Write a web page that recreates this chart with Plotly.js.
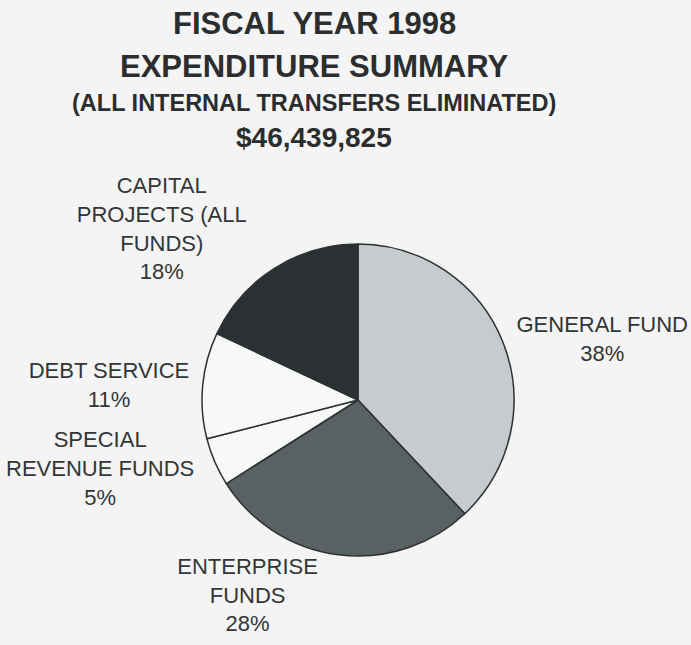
<!DOCTYPE html>
<html>
<head>
<meta charset="utf-8">
<script src="https://cdn.plot.ly/plotly-3.0.1.min.js"></script>
<style>
  html, body { margin: 0; padding: 0; background: #f3f4f3; }
  #chart { width: 691px; height: 645px; }
</style>
</head>
<body>
<div id="chart"></div>
<script>
// Data (clockwise from 12 o'clock)
var categories = ["GENERAL FUND", "ENTERPRISE<br>FUNDS", "SPECIAL<br>REVENUE FUNDS", "DEBT SERVICE", "CAPITAL<br>PROJECTS (ALL<br>FUNDS)"];
var sharePercent = [38, 28, 5, 11, 18];
var sliceColors = ["#c6cbcd", "#596163", "#f7f8f8", "#f7f8f8", "#2b3032"];
var titleLines = ["FISCAL YEAR 1998", "EXPENDITURE SUMMARY", "(ALL INTERNAL TRANSFERS ELIMINATED)", "$46,439,825"];

var trace = {
  type: "pie",
  labels: categories,
  values: sharePercent,
  sort: false,
  direction: "clockwise",
  rotation: 0,
  marker: { colors: sliceColors, line: { color: "#2e3233", width: 1.5 } },
  texttemplate: "%{label}<br>%{value}%",
  textposition: "outside",
  textfont: { family: "Liberation Sans, Arial, sans-serif", size: 22, color: "#333637" },
  hoverinfo: "none",
  showlegend: false,
  domain: { x: [(358 - 156) / 691, (358 + 156) / 691], y: [(245 - 156) / 645, (245 + 156) / 645] }
};

var fonts = [
  { size: 31, y: 23 },
  { size: 31, y: 66 },
  { size: 23.5, y: 103 },
  { size: 28, y: 137 }
];
var annotations = titleLines.map(function (t, i) {
  return {
    text: "<b>" + t + "</b>",
    xref: "paper", yref: "paper",
    x: 314 / 691, y: 1 - fonts[i].y / 645,
    xanchor: "center", yanchor: "middle",
    showarrow: false,
    font: { family: "Liberation Sans, Arial, sans-serif", size: fonts[i].size, color: "#2b2d2e" }
  };
});

var layout = {
  width: 691, height: 645,
  margin: { l: 0, r: 0, t: 0, b: 0 },
  paper_bgcolor: "#f3f4f3",
  plot_bgcolor: "#f3f4f3",
  annotations: annotations
};

Plotly.newPlot("chart", [trace], layout, { displayModeBar: false, staticPlot: true });
</script>
</body>
</html>
